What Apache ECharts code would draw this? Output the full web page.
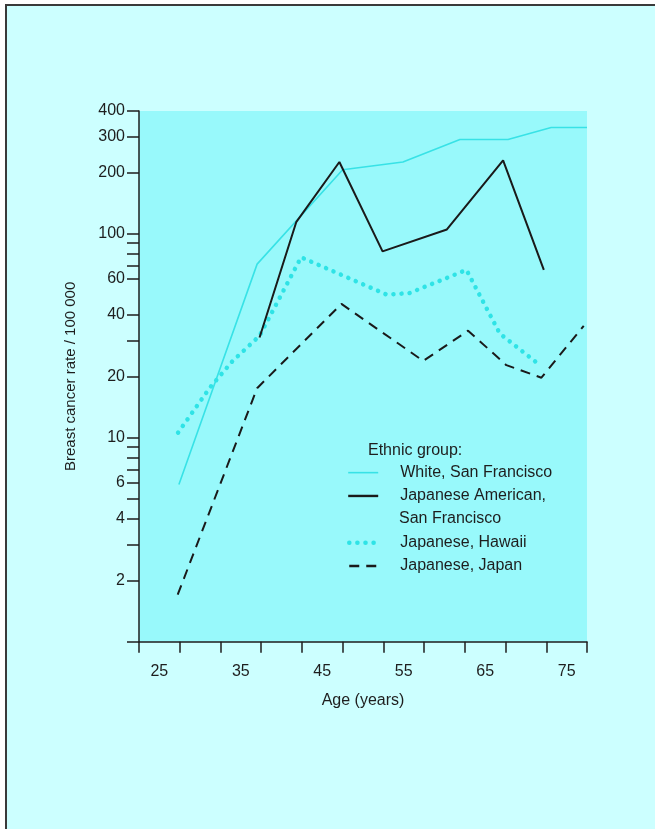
<!DOCTYPE html>
<html>
<head>
<meta charset="utf-8">
<script src="https://cdn.jsdelivr.net/npm/echarts@6/dist/echarts.min.js"></script>
<style>
html,body{margin:0;padding:0;background:#ffffff;}
#chart{width:655px;height:829px;}
</style>
</head>
<body>
<div id="chart"></div>
<script>
// ---- data ----
const ageCategories = ['25', '30', '35', '40', '45', '50', '55', '60', '65', '70', '75'];
const yTickValues = [1, 2, 3, 4, 5, 6, 7, 8, 9, 10, 20, 30, 40, 60, 70, 80, 90, 100, 200, 300, 400];
const yLabelValues = [2, 4, 6, 10, 20, 40, 60, 100, 200, 300, 400];

const whiteSFAge  = [27.4, 37.0, 47.5, 54.9, 61.9, 67.8, 73.1, 77.5];
const whiteSFRate = [5.9, 71, 206, 225, 290, 290, 332, 332];

const japAmSFAge  = [37.3, 41.8, 47.1, 52.4, 60.3, 67.2, 72.2];
const japAmSFRate = [31, 114, 225, 82, 105, 229, 66.5];

const hawaiiAge  = [27.3, 31.2, 34.0, 37.3, 42.4, 52.9, 55.7, 62.7, 66.8, 71.3];
const hawaiiRate = [10.6, 17.6, 23.8, 31.6, 76.7, 50.3, 51.2, 66.5, 32.4, 23.4];

const japanAge  = [27.25, 37.0, 47.35, 57.4, 62.9, 67.6, 71.9, 77.1];
const japanRate = [1.70, 17.5, 45.3, 23.8, 33.5, 22.7, 19.7, 35.4];

const seriesNames = ['White, San Francisco', 'Japanese American, San Francisco', 'Japanese, Hawaii', 'Japanese, Japan'];

// ---- chart ----
const FONT = '"Liberation Sans", Arial, Helvetica, sans-serif';
const TXT = '#1e1e1e';
const pairs = (xs, ys) => xs.map((x, i) => [x, ys[i]]);

const cyanSolid = '#38e2e6';
const cyanDots = '#2fe3e6';
const dark = '#1a1a1a';

const chart = echarts.init(document.getElementById('chart'), null, {renderer: 'canvas'});

const legendText = {
  fontSize: 16, fontFamily: FONT, color: TXT, lineHeight: 23.3, padding: [0, 0, 0, 17]
};

chart.setOption({
  backgroundColor: '#ccffff',
  animation: false,
  title: {
    text: 'Ethnic group:',
    left: 368, top: 443, padding: 0,
    textStyle: {fontSize: 16, fontWeight: 'normal', color: TXT, fontFamily: FONT}
  },
  graphic: [
    {type: 'rect', left: 0, top: 0, shape: {width: 655, height: 4}, style: {fill: '#ffffff'}, silent: true},
    {type: 'rect', left: 0, top: 0, shape: {width: 5, height: 829}, style: {fill: '#ffffff'}, silent: true},
    {type: 'rect', left: 5, top: 4, shape: {width: 650, height: 2}, style: {fill: '#3a3a3a'}, silent: true},
    {type: 'rect', left: 5, top: 4, shape: {width: 2, height: 825}, style: {fill: '#3a3a3a'}, silent: true},
    {type: 'text', left: 399, top: 511, style: {text: 'San Francisco', font: '16px ' + FONT, fill: TXT}, silent: true}
  ],
  legend: [
    {
      orient: 'vertical', left: 347, top: 461, padding: 0,
      itemWidth: 30, itemHeight: 14, itemGap: 0, selectedMode: false,
      itemStyle: {opacity: 0},
      data: [
        {name: seriesNames[0], lineStyle: {width: 1.6}},
        {name: seriesNames[1], lineStyle: {width: 2.4}}
      ],
      formatter: n => (n === seriesNames[1] ? 'Japanese American,' : n),
      textStyle: legendText
    },
    {
      orient: 'vertical', left: 347, top: 531, padding: 0,
      itemWidth: 30, itemHeight: 14, itemGap: 0, selectedMode: false,
      itemStyle: {opacity: 0},
      data: [
        {name: seriesNames[2], lineStyle: {width: 4.5}},
        {name: seriesNames[3], lineStyle: {width: 2.4}}
      ],
      textStyle: Object.assign({}, legendText, {padding: [0, 0, 0, 16]})
    }
  ],
  grid: {
    left: 139, right: 68, top: 111, bottom: 187.3,
    show: true, backgroundColor: '#98f9fb', borderWidth: 0
  },
  xAxis: [
    {
      type: 'category', data: ageCategories, boundaryGap: true, position: 'bottom',
      axisLine: {show: true, lineStyle: {color: TXT, width: 1.5}},
      axisTick: {show: true, interval: 0, length: 11, lineStyle: {color: TXT, width: 1.5}},
      axisLabel: {interval: 1, margin: 22, fontSize: 16, color: TXT, fontFamily: FONT},
      splitLine: {show: false},
      name: 'Age (years)', nameLocation: 'middle', nameGap: 51,
      nameTextStyle: {fontSize: 16, color: TXT, fontFamily: FONT}
    },
    {
      type: 'value', min: 22.5, max: 77.5, show: false
    }
  ],
  yAxis: {
    type: 'log', logBase: 10, min: 1, max: 400,
    axisLine: {show: true, lineStyle: {color: TXT, width: 1.5}},
    axisTick: {show: true, length: 12, customValues: yTickValues, lineStyle: {color: TXT, width: 1.5}},
    axisLabel: {customValues: yLabelValues, margin: 14, fontSize: 16, color: TXT, fontFamily: FONT},
    splitLine: {show: false},
    minorTick: {show: false},
    name: 'Breast cancer rate / 100 000', nameLocation: 'middle', nameGap: 61, nameRotate: 90,
    nameTextStyle: {fontSize: 15, color: TXT, fontFamily: FONT}
  },
  series: [
    {
      name: seriesNames[0], type: 'line', xAxisIndex: 1, symbol: 'none',
      data: pairs(whiteSFAge, whiteSFRate),
      lineStyle: {color: cyanSolid, width: 1.6}, itemStyle: {color: cyanSolid}
    },
    {
      name: seriesNames[2], type: 'line', xAxisIndex: 1, symbol: 'none',
      data: pairs(hawaiiAge, hawaiiRate),
      lineStyle: {color: cyanDots, width: 4.5, type: [0.1, 8], cap: 'round'}, itemStyle: {color: cyanDots}
    },
    {
      name: seriesNames[1], type: 'line', xAxisIndex: 1, symbol: 'none',
      data: pairs(japAmSFAge, japAmSFRate),
      lineStyle: {color: dark, width: 2}, itemStyle: {color: dark}
    },
    {
      name: seriesNames[3], type: 'line', xAxisIndex: 1, symbol: 'none',
      data: pairs(japanAge, japanRate),
      lineStyle: {color: dark, width: 2, type: [10, 7]}, itemStyle: {color: dark}
    }
  ]
});
</script>
</body>
</html>
